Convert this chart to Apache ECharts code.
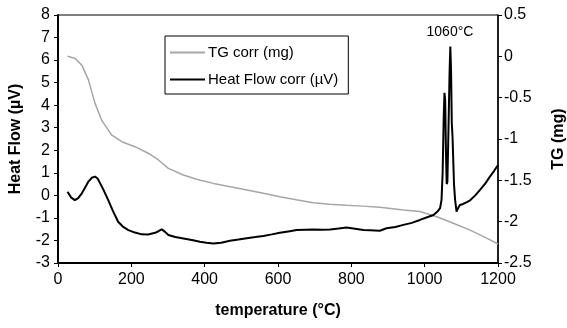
<!DOCTYPE html>
<html>
<head>
<meta charset="utf-8">
<script src="https://cdn.jsdelivr.net/npm/echarts@6/dist/echarts.min.js"></script>
<style>
  html, body { margin: 0; padding: 0; background: #fff; }
  #chart { width: 567px; height: 328px; }
</style>
</head>
<body>
<div id="chart"></div>
<script>
// heat flow (left axis, µV)
let hfTemp = [26, 36, 46, 55, 65, 74, 83, 92, 101, 108, 115, 126, 137, 150, 164, 178, 192, 210, 228, 246, 265, 275, 283, 292, 301, 320, 342, 365, 387, 405, 424, 445, 469, 492, 515, 538, 560, 583, 605, 628, 651, 674, 696, 720, 742, 765, 787, 810, 833, 851, 878, 896, 920, 942, 965, 987, 1005, 1024, 1035, 1042, 1046, 1049, 1052, 1054, 1056, 1058, 1060, 1062, 1065, 1068, 1070, 1072, 1074, 1076, 1080, 1083, 1087, 1090, 1096, 1105, 1115, 1124, 1138, 1151, 1165, 1178, 1190, 1200]
let hfVal = [0.16, -0.1, -0.21, -0.12, 0.09, 0.35, 0.61, 0.78, 0.83, 0.75, 0.53, 0.18, -0.21, -0.7, -1.17, -1.4, -1.54, -1.65, -1.73, -1.74, -1.66, -1.58, -1.51, -1.62, -1.76, -1.85, -1.91, -1.98, -2.06, -2.1, -2.13, -2.1, -2.01, -1.96, -1.9, -1.85, -1.8, -1.73, -1.66, -1.6, -1.54, -1.52, -1.51, -1.52, -1.51, -1.47, -1.43, -1.48, -1.54, -1.55, -1.57, -1.46, -1.4, -1.31, -1.22, -1.09, -0.98, -0.87, -0.72, -0.57, -0.2, 1.0, 3.5, 4.55, 4.2, 2.0, 0.5, 0.6, 3.0, 5.5, 6.6, 5.5, 3.2, 2.6, 0.5, -0.2, -0.72, -0.6, -0.43, -0.38, -0.3, -0.22, 0.0, 0.24, 0.52, 0.83, 1.1, 1.35]

// TG (right axis, mg)
let tgTemp = [26, 46, 65, 83, 101, 119, 146, 174, 210, 246, 274, 301, 342, 380, 424, 470, 515, 560, 605, 650, 696, 740, 787, 830, 878, 942, 987, 1033, 1078, 1124, 1169, 1200]
let tgVal = [0.0, -0.024, -0.106, -0.285, -0.569, -0.771, -0.951, -1.033, -1.093, -1.172, -1.254, -1.355, -1.436, -1.49, -1.537, -1.578, -1.616, -1.656, -1.698, -1.735, -1.772, -1.79, -1.802, -1.812, -1.826, -1.859, -1.878, -1.941, -2.02, -2.102, -2.2, -2.27]

let pairs = (xs, ys) => xs.map((x, i) => [x, ys[i]])

let font = 'Liberation Sans, Arial, sans-serif'
let nameStyle = { fontFamily: font, fontSize: 16, fontWeight: 'bold', color: '#000' }
let tickStyle = { fontFamily: font, fontSize: 16, color: '#000' }
let chart = echarts.init(document.getElementById('chart'))
chart.setOption({
  animation: false,
  grid: {
    left: 58, right: 69, top: 15, bottom: 65,
    containLabel: false, outerBoundsMode: 'none',
    show: true, borderColor: '#000', borderWidth: 1
  },
  legend: {
    orient: 'vertical',
    left: 165, top: 36,
    padding: [9, 10, 7, 5],
    itemGap: 12,
    itemWidth: 35, itemHeight: 2,
    backgroundColor: '#fff',
    borderColor: '#000', borderWidth: 1,
    textStyle: { fontFamily: font, fontSize: 15, color: '#000', padding: [0, 0, 0, -2] },
    data: [
      { name: 'TG corr (mg)', icon: 'rect' },
      { name: 'Heat Flow corr (µV)', icon: 'rect' }
    ]
  },
  xAxis: {
    type: 'value', min: 0, max: 1200, interval: 200,
    name: 'temperature (°C)', nameLocation: 'middle', nameGap: 40,
    nameTextStyle: nameStyle,
    axisLine: { onZero: false, lineStyle: { color: '#000', width: 2 } },
    axisTick: { length: 4, lineStyle: { color: '#000', width: 1 } },
    axisLabel: Object.assign({ margin: 9, formatter: v => String(v) }, tickStyle),
    splitLine: { show: false }
  },
  yAxis: [{
    type: 'value', min: -3, max: 8, interval: 1,
    name: 'Heat Flow (µV)', nameLocation: 'middle', nameGap: 34, nameRotate: 90,
    nameTextStyle: nameStyle,
    axisLine: { show: true, onZero: false, lineStyle: { color: '#000', width: 2 } },
    axisTick: { show: true, length: 4, lineStyle: { color: '#000', width: 1 } },
    axisLabel: Object.assign({ margin: 8 }, tickStyle),
    splitLine: { show: false }
  }, {
    type: 'value', min: -2.5, max: 0.5, interval: 0.5, position: 'right',
    name: 'TG (mg)', nameLocation: 'middle', nameGap: 53, nameRotate: 90,
    nameTextStyle: nameStyle,
    axisLine: { show: true, onZero: false, lineStyle: { color: '#000', width: 1.5 } },
    axisTick: { show: true, length: 4, lineStyle: { color: '#000', width: 1 } },
    axisLabel: Object.assign({ margin: 6 }, tickStyle),
    splitLine: { show: false }
  }],
  series: [{
    name: 'TG corr (mg)',
    type: 'line', yAxisIndex: 1, showSymbol: false,
    color: '#a6a6a6',
    lineStyle: { color: '#a6a6a6', width: 1.5 },
    data: pairs(tgTemp, tgVal)
  }, {
    name: 'Heat Flow corr (µV)',
    type: 'line', yAxisIndex: 0, showSymbol: false,
    color: '#000',
    lineStyle: { color: '#000', width: 2 },
    data: pairs(hfTemp, hfVal),
    markPoint: {
      symbol: 'circle', symbolSize: 0,
      label: {
        show: true, position: 'top', distance: 7, formatter: '1060°C',
        fontFamily: font, fontSize: 14, color: '#000'
      },
      data: [{ coord: [1069, 6.6] }]
    }
  }]
})
</script>
</body>
</html>
